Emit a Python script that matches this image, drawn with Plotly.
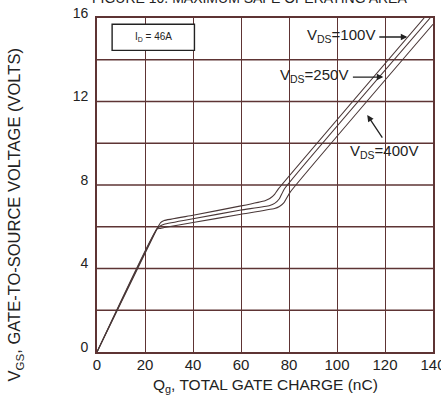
import plotly.graph_objects as go

# Gate charge (nC) and gate-source voltage (V)
qg_100 = [0, 25, 26.5, 28, 40, 60, 70, 72, 74, 75.5, 136.3]
vgs_100 = [0, 5.9, 6.2, 6.3, 6.55, 7.0, 7.25, 7.35, 7.55, 7.8, 16.0]

qg_250 = [0, 25, 26.5, 28, 40, 60, 72, 74, 76, 78, 138.8]
vgs_250 = [0, 5.9, 6.05, 6.12, 6.38, 6.8, 7.02, 7.12, 7.34, 7.8, 16.0]

qg_400 = [0, 25, 26.5, 28, 40, 60, 74, 76, 78, 80.5, 140]
vgs_400 = [0, 5.9, 5.92, 5.96, 6.2, 6.6, 6.87, 6.97, 7.17, 7.66, 15.7]

x_ticks = [0, 20, 40, 60, 80, 100, 120, 140]
y_ticks = [0, 4, 8, 12, 16]

GRID = "#5e3434"
LINE = "#4a3838"
TXT = "#222222"
FONT = "Liberation Sans, Arial, sans-serif"

fig = go.Figure()
for q, v in [(qg_100, vgs_100), (qg_250, vgs_250), (qg_400, vgs_400)]:
    fig.add_trace(go.Scatter(x=q, y=v, mode="lines",
                             line=dict(color=LINE, width=1.1, shape="spline", smoothing=0.4),
                             showlegend=False, hoverinfo="skip"))

fig.update_xaxes(range=[0, 140], tickvals=x_ticks, showgrid=True, gridcolor=GRID, gridwidth=1.4,
                 showline=True, linecolor=GRID, linewidth=1.6, mirror=True, zeroline=False,
                 ticks="", tickfont=dict(family=FONT, size=15, color=TXT),
                 automargin=False, ticklabeloverflow="allow", ticklabelstandoff=-2)
fig.update_yaxes(range=[0, 16], tickvals=y_ticks, showgrid=False,
                 showline=True, linecolor=GRID, linewidth=1.6, mirror=True, zeroline=False,
                 ticks="", tickfont=dict(family=FONT, size=14, color=TXT),
                 automargin=False, ticklabeloverflow="allow",
                 ticklabelshift=-5, ticklabelstandoff=4)

# horizontal grid every 2 V
for gv in range(2, 16, 2):
    fig.add_shape(type="line", xref="paper", x0=0, x1=1, yref="y", y0=gv, y1=gv,
                  line=dict(color=GRID, width=1.4), layer="below")

# I_D box
fig.add_shape(type="rect", xref="x", yref="y", x0=6.3, x1=40.6, y0=14.45, y1=15.7,
              fillcolor="white", line=dict(color="#222", width=1.4), layer="above")
fig.add_annotation(x=23.5, y=15.08, xref="x", yref="y", text="I<sub>D</sub> = 46A",
                   showarrow=False, font=dict(family=FONT, size=10, color=TXT))

# V_DS labels and arrows
fig.add_annotation(x=116.5, y=15.15, xref="x", yref="y", xanchor="right", showarrow=False,
                   text="V<sub>DS</sub>=100V", font=dict(family=FONT, size=15, color=TXT))
fig.add_annotation(x=129.3, y=15.09, ax=117.0, ay=15.09, xref="x", yref="y", axref="x", ayref="y",
                   text="", showarrow=True, arrowhead=2, arrowsize=1, arrowwidth=1.3, arrowcolor=TXT)
fig.add_annotation(x=105.3, y=13.25, xref="x", yref="y", xanchor="right", showarrow=False,
                   text="V<sub>DS</sub>=250V", font=dict(family=FONT, size=15, color=TXT))
fig.add_annotation(x=119.3, y=13.17, ax=106.0, ay=13.17, xref="x", yref="y", axref="x", ayref="y",
                   text="", showarrow=True, arrowhead=2, arrowsize=1, arrowwidth=1.3, arrowcolor=TXT)
fig.add_annotation(x=104.5, y=9.6, xref="x", yref="y", xanchor="left", showarrow=False,
                   text="V<sub>DS</sub>=400V", font=dict(family=FONT, size=15, color=TXT))
fig.add_annotation(x=112.6, y=11.35, ax=119.3, ay=10.2, xref="x", yref="y", axref="x", ayref="y",
                   text="", showarrow=True, arrowhead=2, arrowsize=1, arrowwidth=1.3, arrowcolor=TXT)

# axis titles
fig.add_annotation(xref="paper", yref="paper", x=-0.243, y=0.41, xanchor="center", yanchor="middle",
                   textangle=-90, showarrow=False,
                   text="V<sub>GS</sub>, GATE-TO-SOURCE VOLTAGE (VOLTS)",
                   font=dict(family=FONT, size=16.5, color=TXT))
fig.add_annotation(xref="paper", yref="paper", x=0.5, y=-0.1, xanchor="center", yanchor="middle",
                   showarrow=False, text="Q<sub>g</sub>, TOTAL GATE CHARGE (nC)",
                   font=dict(family=FONT, size=15.5, color=TXT))
# cut-off title at the top
fig.add_annotation(xref="paper", yref="paper", x=-0.02, y=1.06, xanchor="left", yanchor="middle",
                   showarrow=False, text="FIGURE 10. MAXIMUM SAFE OPERATING AREA",
                   font=dict(family=FONT, size=14, color=TXT))

fig.update_layout(width=441, height=396, margin=dict(l=97, r=8, t=18, b=44, autoexpand=False),
                  plot_bgcolor="white", paper_bgcolor="white")
fig.write_html("out.html", config={"displayModeBar": False},
               post_script="document.body.style.margin='0';document.body.style.overflow='hidden';")
